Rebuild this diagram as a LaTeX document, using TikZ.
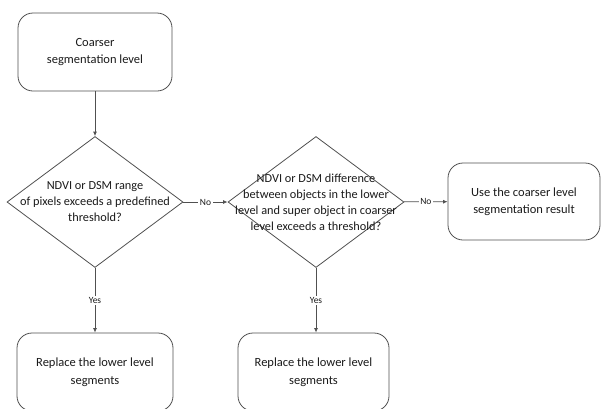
\documentclass[tikz,border=0pt]{standalone}
\usepackage{fontspec}
\setmainfont{Carlito}
\usetikzlibrary{arrows.meta, positioning, shapes.geometric}
\definecolor{edge}{HTML}{505050}
\definecolor{ink}{HTML}{1A1A1A}
\tikzset{
  box/.style={draw=edge, line width=0.8pt, rounded corners=15pt,
              minimum width=154pt, minimum height=78pt, align=center,
              text=ink, font=\fontsize{12.5}{17.5}\selectfont},
  dec/.style={draw=edge, line width=0.8pt, diamond, inner sep=0pt,
              minimum width=176pt, minimum height=131pt},
  dtxt/.style={align=center, text=ink, font=\fontsize{12.3}{16}\selectfont},
  fl/.style={-{Latex[length=4.5pt, width=4pt]}, edge, line width=0.8pt},
  tag/.style={fill=white, inner sep=1.5pt, text=ink, font=\fontsize{9.5}{10}\selectfont},
}
\begin{document}
\begin{tikzpicture}[x=1pt, y=-1pt]
  \clip (0,0) rectangle (601,408);
  \node[box] (coarse) at (95,52) {Coarser\\segmentation level};
  \node[dec] (q1) at (95,202) {};
  \node[dtxt] (q1t) at (q1) {NDVI or DSM range\\of pixels exceeds a predefined\\threshold?};
  \node[dec] (q2) at (316,202) {};
  \node[dtxt] (q2t) at (q2) {NDVI or DSM difference\\between objects in the lower\\level and super object in coarser\\level exceeds a threshold?};
  \node[box, minimum width=152pt, minimum height=77pt] (use) at (524,201.5) {Use the coarser level\\segmentation result};
  \node[box, minimum width=156pt] (rep1) at (95,372) {Replace the lower level\\segments};
  \node[box, minimum width=151pt] (rep2) at (313.5,372) {Replace the lower level\\segments};
  \draw[fl] (coarse) -- (q1);
  \draw[fl] (q1) -- node[tag] {No} (q2);
  \draw[fl] (q2) -- node[tag] {No} (use);
  \draw[fl] (q1) -- node[tag] {Yes} (q1 |- rep1.north);
  \draw[fl] (q2) -- node[tag] {Yes} (q2 |- rep2.north);
\end{tikzpicture}
\end{document}
